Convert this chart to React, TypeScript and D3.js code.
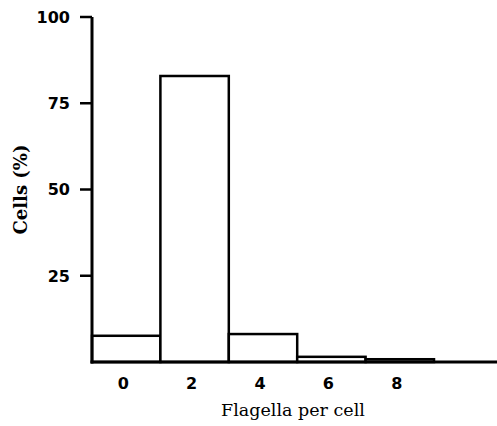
import React from "react";
import * as d3 from "d3";

const flagella = [0, 2, 4, 6, 8];
const cellsPct = [7.6, 82.9, 8.1, 1.5, 0.8];
const yTicks = [25, 50, 75, 100];
const xTicks = [0, 2, 4, 6, 8];

const W = 497;
const H = 426;

export default function App() {
  const x = d3.scaleLinear().domain([-1, 9]).range([92, 434]);
  const y = d3.scaleLinear().domain([0, 100]).range([362, 17]);
  const sans = "'DejaVu Sans', sans-serif";
  const serif = "'DejaVu Serif', serif";
  return (
    <svg width={W} height={H} style={{ position: "absolute", left: 0, top: 0 }}>
      <rect width={W} height={H} fill="#fff" />
      {flagella.map((f, i) => (
        <rect
          key={f}
          x={x(f - 1)}
          y={y(cellsPct[i])}
          width={x(f + 1) - x(f - 1)}
          height={y(0) - y(cellsPct[i])}
          fill="#fff"
          stroke="#000"
          strokeWidth={2.5}
        />
      ))}
      {/* y axis */}
      <line x1={x(-1)} x2={x(-1)} y1={y(100)} y2={y(0) + 1.5} stroke="#000" strokeWidth={3} />
      {yTicks.map((t) => (
        <g key={t}>
          <line x1={x(-1) - 12} x2={x(-1)} y1={y(t)} y2={y(t)} stroke="#000" strokeWidth={2.5} />
          <text
            x={70}
            y={y(t)}
            dy="0.36em"
            textAnchor="end"
            fontFamily={sans}
            fontWeight="bold"
            fontSize={16}
          >
            {t}
          </text>
        </g>
      ))}
      {/* x axis */}
      <line x1={x(-1) - 1.5} x2={W} y1={y(0)} y2={y(0)} stroke="#000" strokeWidth={3} />
      {xTicks.map((t) => (
        <text
          key={t}
          x={x(t) - 3}
          y={389}
          textAnchor="middle"
          fontFamily={sans}
          fontWeight="bold"
          fontSize={16}
        >
          {t}
        </text>
      ))}
      <text
        x={293}
        y={416}
        textAnchor="middle"
        fontFamily={serif}
        fontSize={17.5}
      >
        Flagella per cell
      </text>
      <text
        transform={`translate(27,${y(50)}) rotate(-90)`}
        textAnchor="middle"
        fontFamily={serif}
        fontWeight="bold"
        fontSize={18}
      >
        Cells (%)
      </text>
    </svg>
  );
}
